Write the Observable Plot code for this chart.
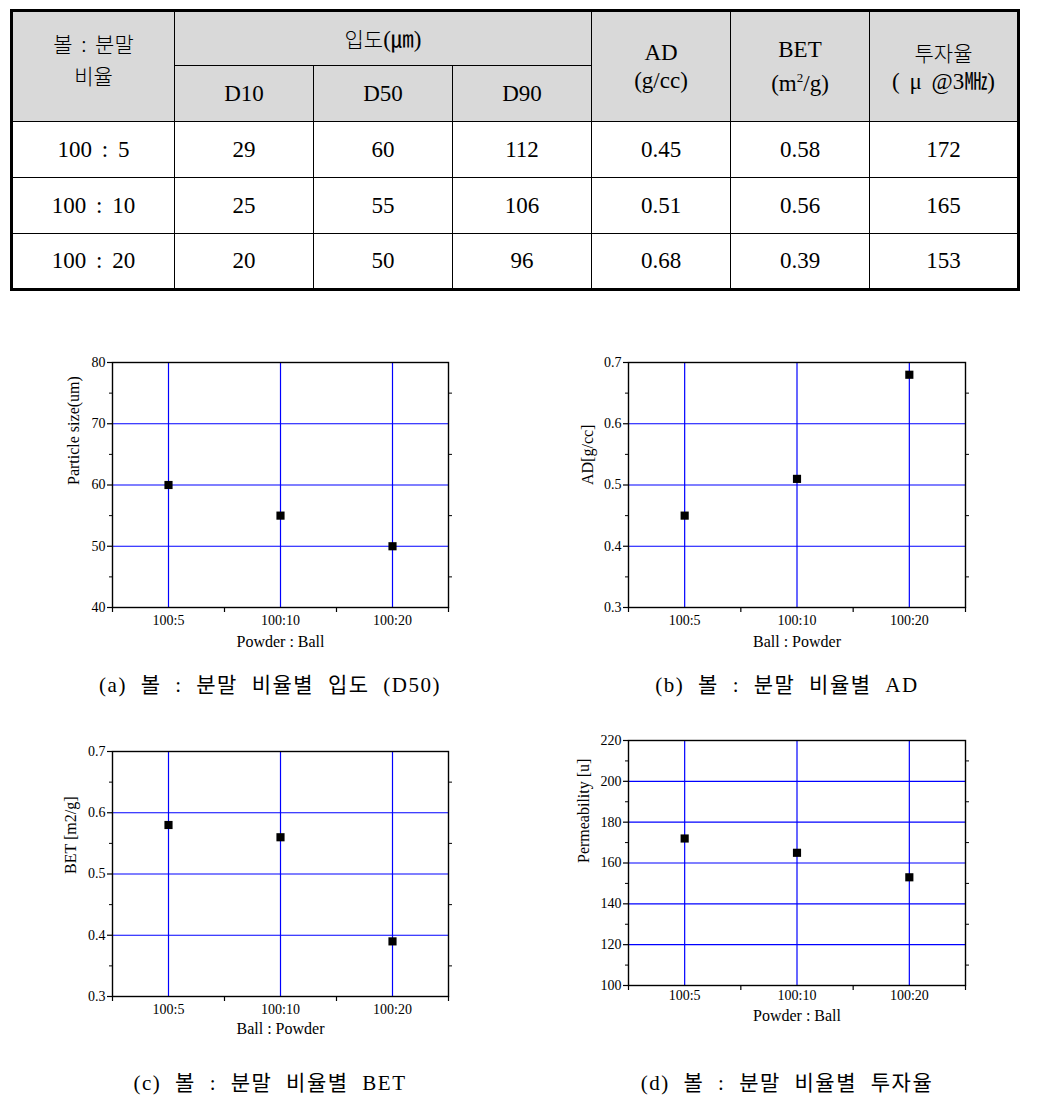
<!DOCTYPE html>
<html>
<head>
<meta charset="utf-8">
<script src="https://cdn.jsdelivr.net/npm/d3@7"></script>
<script src="https://cdn.jsdelivr.net/npm/@observablehq/plot@0.6"></script>
<style>
  html, body { margin: 0; padding: 0; background: #fff; }
  body { width: 1040px; height: 1112px; position: relative; overflow: hidden; color: #000;
         font-family: "Liberation Serif", "Noto Sans CJK KR", serif; }
  table { position: absolute; left: 10px; top: 9px; border-collapse: collapse;
          border: 3px solid #000; table-layout: fixed; }
  td { border: 1px solid #000; text-align: center; vertical-align: middle; padding: 0;
       font-family: "Liberation Serif", "Noto Sans CJK KR", serif; font-size: 23px; line-height: 28px;
       word-spacing: 4px; }
  td.h { background: #d9d9d9; }
  .kr { font-family: "Noto Sans CJK KR", sans-serif; font-size: 21px; font-weight: 300; }
  .cap { position: absolute; font-family: "Liberation Serif", "Noto Sans CJK KR", serif; font-size: 21px;
         transform: translateX(-50%); white-space: nowrap; letter-spacing: 1.5px; word-spacing: 7px; }
  .chart { position: absolute; }
</style>
</head>
<body>
<div id="tbl"></div>
<div id="charts"></div>
<script>
// ---- data ----
const tableRatios = ["100 : 5", "100 : 10", "100 : 20"];
const chartRatios = ["100:5", "100:10", "100:20"];
const d10 = [29, 25, 20];
const d50 = [60, 55, 50];
const d90 = [112, 106, 96];
const adValues = [0.45, 0.51, 0.68];
const betValues = [0.58, 0.56, 0.39];
const permValues = [172, 165, 153];

const captions = [
  "(a) 볼 : 분말 비율별 입도 (D50)",
  "(b) 볼 : 분말 비율별 AD",
  "(c) 볼 : 분말 비율별 BET",
  "(d) 볼 : 분말 비율별 투자율"
];

// ---- table ----
const colW = [163, 139, 139, 139, 139, 139, 149];
let html = "<table><colgroup>" + colW.map(w => `<col style="width:${w}px">`).join("") + "</colgroup>";
html += `<tr style="height:55px">
  <td class="h kr" rowspan="2" style="padding-bottom:16px;line-height:32px">볼 : 분말<br>비율</td>
  <td class="h" colspan="3"><span class="kr">입도</span>(㎛)</td>
  <td class="h" rowspan="2">AD<br>(g/cc)</td>
  <td class="h" rowspan="2">BET<br>(m<sup style="font-size:13px">2</sup>/g)</td>
  <td class="h" rowspan="2"><span class="kr">투자율</span><br>( μ @3㎒)</td></tr>`;
html += `<tr style="height:56px"><td class="h">D10</td><td class="h">D50</td><td class="h">D90</td></tr>`;
tableRatios.forEach((r, i) => {
  html += `<tr style="height:56px"><td>${r}</td><td>${d10[i]}</td><td>${d50[i]}</td><td>${d90[i]}</td>` +
          `<td>${adValues[i].toFixed(2)}</td><td>${betValues[i].toFixed(2)}</td><td>${permValues[i]}</td></tr>`;
});
html += "</table>";
document.getElementById("tbl").innerHTML = html;

// ---- charts ----
function makeChart(cfg) {
  const data = chartRatios.map((c, i) => ({i: i + 1, c, v: cfg.values[i]}));
  const mL = 72, mT = 12, mR = 12, mB = 60;
  const fw = cfg.fw, fh = cfg.fh;
  const [y0, y1] = cfg.yDomain;
  const majors = d3.range(y0, y1 + cfg.step / 2, cfg.step).map(v => +v.toFixed(4));
  const minors = majors.slice(0, -1).map(v => +(v + cfg.step / 2).toFixed(4));
  const inner = majors.slice(1, -1);
  const svg = Plot.plot({
    width: mL + fw + mR,
    height: mT + fh + mB,
    marginLeft: mL, marginTop: mT, marginRight: mR, marginBottom: mB,
    style: {fontFamily: "'Liberation Serif', serif", fontSize: "14px", color: "#000", background: "transparent", overflow: "visible"},
    x: {domain: [0.5, 3.5], label: null},
    y: {domain: cfg.yDomain, label: null},
    marks: [
      Plot.gridY(inner, {stroke: "#0000ff", strokeOpacity: 1, strokeWidth: 1.2}),
      Plot.gridX([1, 2, 3], {stroke: "#0000ff", strokeOpacity: 1, strokeWidth: 1.2}),
      Plot.frame({stroke: "#000", strokeWidth: 1.4}),
      Plot.axisY({ticks: majors, tickSize: 5, tickPadding: 2, tickFormat: cfg.fmt, label: null, strokeWidth: 1.2, fontSize: 14}),
      Plot.axisY({ticks: minors, tickSize: 3, tickFormat: () => "", label: null}),
      Plot.axisY({anchor: "right", ticks: minors, tickSize: 3, tickFormat: () => "", label: null}),
      Plot.axisX({ticks: [1, 2, 3], tickSize: 0, tickPadding: cfg.xPad, tickFormat: d => chartRatios[d - 1], label: null, fontSize: 14}),
      Plot.axisX({ticks: [0.5, 1.5, 2.5, 3.5], tickSize: 5, tickFormat: () => "", label: null, strokeWidth: 1.2}),
      Plot.dot(data, {x: "i", y: "v", symbol: "square", r: 4.6, fill: "#000"}),
      Plot.text([cfg.ylabel], {frameAnchor: "left", dx: cfg.yLabDx, rotate: -90, fontSize: 16, text: d => d}),
      Plot.text([cfg.xlabel], {frameAnchor: "bottom", dy: cfg.xLabDy, fontSize: 16, text: d => d})
    ]
  });
  svg.classList.add("chart");
  svg.style.position = "absolute";
  svg.style.left = (cfg.fx - mL) + "px";
  svg.style.top = (cfg.fy - mT) + "px";
  document.getElementById("charts").appendChild(svg);
}

makeChart({values: d50, yDomain: [40, 80], step: 10, fmt: d3.format("d"),
  ylabel: "Particle size(um)", xlabel: "Powder : Ball",
  fx: 112, fy: 362, fw: 336, fh: 245, yLabDx: -39, xLabDy: 39, xPad: 8});
makeChart({values: adValues, yDomain: [0.3, 0.7], step: 0.1, fmt: d3.format(".1f"),
  ylabel: "AD[g/cc]", xlabel: "Ball : Powder",
  fx: 628, fy: 362, fw: 337, fh: 245, yLabDx: -41, xLabDy: 39, xPad: 8});
makeChart({values: betValues, yDomain: [0.3, 0.7], step: 0.1, fmt: d3.format(".1f"),
  ylabel: "BET [m2/g]", xlabel: "Ball : Powder",
  fx: 112, fy: 751, fw: 336, fh: 245, yLabDx: -42, xLabDy: 37, xPad: 8});
makeChart({values: permValues, yDomain: [100, 220], step: 20, fmt: d3.format("d"),
  ylabel: "Permeability [u]", xlabel: "Powder : Ball",
  fx: 628, fy: 740, fw: 337, fh: 245, yLabDx: -45, xLabDy: 35, xPad: 5});

// captions
const capPos = [[270, 668], [787, 668], [270, 1066], [787, 1066]];
captions.forEach((t, k) => {
  const d = document.createElement("div");
  d.className = "cap";
  d.textContent = t;
  d.style.left = capPos[k][0] + "px";
  d.style.top = capPos[k][1] + "px";
  document.body.appendChild(d);
});
</script>
</body>
</html>
